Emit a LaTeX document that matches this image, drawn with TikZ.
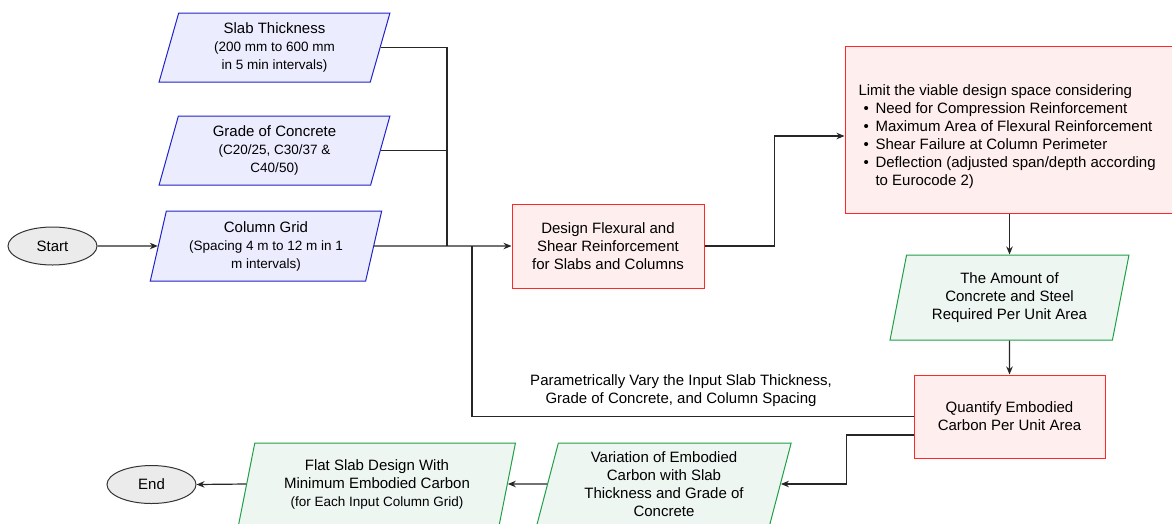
\documentclass[tikz,border=0pt]{standalone}
\usepackage{fontspec}
\setmainfont{Liberation Sans}
\usetikzlibrary{shapes,positioning,calc,arrows.meta}
\definecolor{inblue}{RGB}{34,34,200}
\definecolor{inbluefill}{RGB}{236,236,255}
\definecolor{procred}{RGB}{255,40,40}
\definecolor{procfill}{RGB}{255,238,238}
\definecolor{resgreen}{RGB}{30,160,70}
\definecolor{resfill}{RGB}{238,246,242}
\newcommand{\fsmain}{\fontsize{15}{18}\selectfont}
\newcommand{\fssmall}{\fontsize{13.5}{17}\selectfont}
\newcommand{\bul}{\hspace*{5pt}\makebox[12pt][l]{\textbullet}}

\begin{document}
\begin{tikzpicture}[x=1pt,y=-1pt]
        \useasboundingbox (0,0) rectangle (1172,523);
        \tikzset{
            terminal/.style={ellipse, draw=black!80, fill=black!8, line width=1pt,
                minimum width=89pt, minimum height=38pt, inner sep=0pt, font=\fsmain},
            datain/.style={trapezium, trapezium left angle=76, trapezium right angle=104,
                trapezium stretches=true, draw=inblue, fill=inbluefill, line width=1pt,
                inner sep=0pt, align=center, font=\fsmain},
            process/.style={rectangle, draw=procred, fill=procfill, line width=1pt,
                inner sep=0pt, align=center, font=\fsmain},
            result/.style={trapezium, trapezium left angle=76, trapezium right angle=104,
                trapezium stretches=true, draw=resgreen, fill=resfill, line width=1pt,
                inner sep=0pt, align=center, font=\fsmain},
            arr/.style={-{Stealth[length=8pt,width=6.5pt]}}
        }
        \begin{scope}
            \node[terminal] (start) at (52.5,246) {Start};
            \node[datain, minimum width=231pt, minimum height=69pt] (slab) at (274.5,47.5)
            {Slab Thickness\\\fssmall(200 mm to 600 mm\\\fssmall in 5 min intervals)};
            \node[datain, minimum width=231pt, minimum height=69pt] (grade) at (274.5,150.5)
            {Grade of Concrete\\\fssmall(C20/25, C30/37 \&\\\fssmall C40/50)};
            \node[datain, minimum width=232pt, minimum height=70pt] (grid) at (266,246)
            {Column Grid\\\fssmall(Spacing 4 m to 12 m in 1\\\fssmall m intervals)};
            \node[process, minimum width=192pt, minimum height=84pt] (design) at (608,246)
            {Design Flexural and\\Shear Reinforcement\\for Slabs and Columns};
            \node[process, minimum width=327pt, minimum height=167pt] (limit) at (1008.5,129.5) {};
            \node[anchor=west, align=left, font=\fsmain] (limittxt) at (855,137)
            {Limit the viable design space considering\\
             \bul Need for Compression Reinforcement\\
             \bul Maximum Area of Flexural Reinforcement\\
             \bul Shear Failure at Column Perimeter\\
             \bul Deflection (adjusted span/depth according\\
             \hspace*{17pt}to Eurocode 2)};
            \node[result, minimum width=239pt, minimum height=85pt] (amount) at (1009.5,297.5)
            {The Amount of\\Concrete and Steel\\Required Per Unit Area};
            \node[process, minimum width=191pt, minimum height=83pt] (quantify) at (1009.5,416.5)
            {Quantify Embodied\\Carbon Per Unit Area};
            \node[result, minimum width=255pt, minimum height=82pt] (variation) at (664,484)
            {Variation of Embodied\\Carbon with Slab\\Thickness and Grade of\\Concrete};
            \node[result, minimum width=277pt, minimum height=82pt] (flat) at (377,484)
            {Flat Slab Design With\\Minimum Embodied Carbon\\\fssmall(for Each Input Column Grid)};
            \node[terminal] (end) at (151.5,484.5) {End};
            \node[align=center, font=\fsmain] (vary) at (681,391)
            {Parametrically Vary the Input Slab Thickness,\\Grade of Concrete, and Column Spacing};
            \coordinate (bus) at (447,246);
            \coordinate (loop) at (472,246);
        \end{scope}

        \begin{scope}[line width=1.2pt, black!85]
            \draw[arr] (start.east) -- (grid.west);
            \draw (slab.east) -| (bus);
            \draw (grade.east) -- (grade.east -| bus);
            \draw[arr] (grid.east) -- (design.west);
            \draw (quantify.west) -| (loop);
            \draw[arr] (design.east) -- ++(70,0) |- ([yshift=-6.5pt]limit.west);
            \draw[arr] (amount.north |- limit.south) -- (amount.north);
            \draw[arr] (amount.south) -- (quantify.north);
            \draw[arr] ([yshift=-18.5pt]quantify.west) -- ++(-67,0) |- (variation.east);
            \draw[arr] (variation.west) -- (flat.east);
            \draw[arr] (flat.west) -- (end.east);
        \end{scope}
\end{tikzpicture}
\end{document}
